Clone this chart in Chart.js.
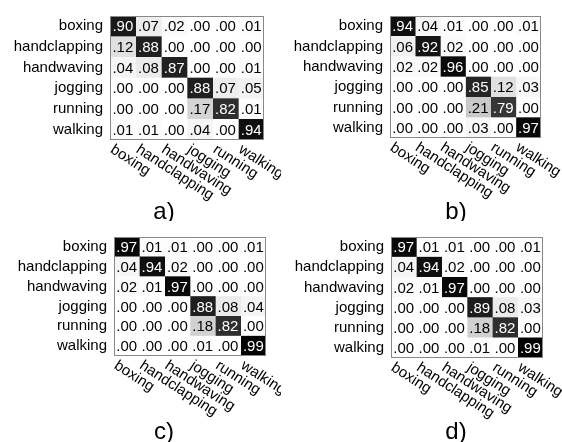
<!DOCTYPE html>
<html>
<head>
<meta charset="utf-8">
<script src="https://cdn.jsdelivr.net/npm/chart.js@4.4.1/dist/chart.umd.min.js"></script>
<style>
  body { margin: 0; background: #fff; }
  .panel { position: absolute; width: 281px; height: 221px; }
</style>
</head>
<body>
<div class="panel" style="left:0;top:0"><canvas id="cmA"></canvas></div>
<div class="panel" style="left:281px;top:0"><canvas id="cmB"></canvas></div>
<div class="panel" style="left:0;top:221px"><canvas id="cmC"></canvas></div>
<div class="panel" style="left:281px;top:221px"><canvas id="cmD"></canvas></div>
<script>
'use strict';

// action classes (rows = true, columns = predicted)
const classes = ['boxing', 'handclapping', 'handwaving', 'jogging', 'running', 'walking'];

const matA = [
    [.90, .07, .02, .00, .00, .01],
    [.12, .88, .00, .00, .00, .00],
    [.04, .08, .87, .00, .00, .01],
    [.00, .00, .00, .88, .07, .05],
    [.00, .00, .00, .17, .82, .01],
    [.01, .01, .00, .04, .00, .94]
];
const matB = [
    [.94, .04, .01, .00, .00, .01],
    [.06, .92, .02, .00, .00, .00],
    [.02, .02, .96, .00, .00, .00],
    [.00, .00, .00, .85, .12, .03],
    [.00, .00, .00, .21, .79, .00],
    [.00, .00, .00, .03, .00, .97]
];
const matC = [
    [.97, .01, .01, .00, .00, .01],
    [.04, .94, .02, .00, .00, .00],
    [.02, .01, .97, .00, .00, .00],
    [.00, .00, .00, .88, .08, .04],
    [.00, .00, .00, .18, .82, .00],
    [.00, .00, .00, .01, .00, .99]
];
const matD = [
    [.97, .01, .01, .00, .00, .01],
    [.04, .94, .02, .00, .00, .00],
    [.02, .01, .97, .00, .00, .00],
    [.00, .00, .00, .89, .08, .03],
    [.00, .00, .00, .18, .82, .00],
    [.00, .00, .00, .01, .00, .99]
];

const font = 'Liberation Sans, Arial, sans-serif';

function gray(v) {
    const g = Math.round(255 * (1 - v));
    return 'rgb(' + g + ',' + g + ',' + g + ')';
}

function makeChart(id, mat, tag, box) {
    const datasets = classes.map((col, j) => ({
        label: col,
        data: classes.map(() => 1),
        backgroundColor: mat.map(row => gray(row[j])),
        borderWidth: 0,
        barPercentage: 1,
        categoryPercentage: 1
    }));

    const cellText = {
        id: 'cellText',
        afterDatasetsDraw(chart) {
            const ctx = chart.ctx;
            const a = chart.chartArea;
            ctx.save();
            ctx.font = '15px ' + font;
            ctx.textAlign = 'center';
            ctx.textBaseline = 'middle';
            chart.data.datasets.forEach((ds, j) => {
                chart.getDatasetMeta(j).data.forEach((el, i) => {
                    const v = mat[i][j];
                    const p = el.getCenterPoint();
                    ctx.fillStyle = v > 0.5 ? '#fff' : '#000';
                    ctx.fillText(v.toFixed(2).slice(1), p.x, p.y + 1);
                });
            });
            ctx.strokeStyle = '#888';
            ctx.lineWidth = 1;
            ctx.strokeRect(a.left + 0.5, a.top + 0.5, a.right - a.left - 1, a.bottom - a.top - 1);

            // slanted column labels
            const xs = chart.scales.x;
            ctx.fillStyle = '#000';
            ctx.textAlign = 'left';
            ctx.textBaseline = 'top';
            classes.forEach((c, j) => {
                const cx = xs.getPixelForValue(j + 0.5);
                ctx.save();
                ctx.translate(cx - 7, a.bottom + 2);
                ctx.rotate(33 * Math.PI / 180);
                ctx.fillText(c, 0, 0);
                ctx.restore();
            });

            ctx.font = '24px ' + font;
            ctx.textAlign = 'center';
            ctx.textBaseline = 'alphabetic';
            ctx.fillText(tag, box.tagX, box.tagY);
            ctx.restore();
        }
    };

    return new Chart(document.getElementById(id), {
        type: 'bar',
        data: { labels: classes, datasets: datasets },
        options: {
            indexAxis: 'y',
            responsive: false,
            animation: false,
            devicePixelRatio: 1,
            layout: { padding: { left: 0, top: box.top, right: 281 - box.right, bottom: 221 - box.bottom } },
            plugins: { legend: { display: false }, tooltip: { enabled: false } },
            scales: {
                x: { type: 'linear', stacked: true, min: 0, max: 6, display: false },
                y: {
                    stacked: true,
                    grid: { display: false, drawTicks: false },
                    border: { display: false },
                    ticks: { color: '#000', font: { family: font, size: 15 }, padding: 7 },
                    afterFit(s) { s.width = box.left; }
                }
            }
        },
        plugins: [cellText]
    });
}

function setup(id) {
    const c = document.getElementById(id);
    c.width = 281;
    c.height = 221;
}
['cmA', 'cmB', 'cmC', 'cmD'].forEach(setup);

makeChart('cmA', matA, 'a)', { left: 110, top: 7, right: 264, bottom: 140, tagX: 164, tagY: 219 });
makeChart('cmB', matB, 'b)', { left: 109, top: 7, right: 260, bottom: 138, tagX: 175, tagY: 219 });
makeChart('cmC', matC, 'c)', { left: 114, top: 8, right: 266, bottom: 135, tagX: 164, tagY: 218 });
makeChart('cmD', matD, 'd)', { left: 110, top: 7, right: 262, bottom: 137, tagX: 175, tagY: 218 });
</script>
</body>
</html>
